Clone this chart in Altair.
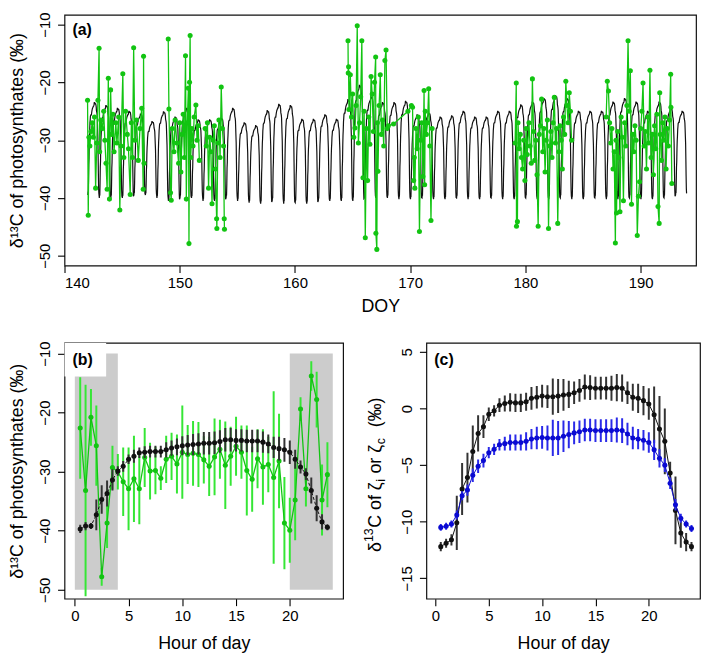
import altair as alt
import pandas as pd

FONT = "Liberation Sans"
BLACK = "#111111"
GREEN_PT = "#12c412"
GREEN_BAR = "#35e635"
BLUE_PT = "#0a0ad2"
BLUE_BAR = "#2a2ae8"
GREY = "#cccccc"

# ---------------- panel (a): DOY time series ----------------
days_a = list(range(142, 194))
day_peak = [-23.5, -24.0, -24.5, -25.0, -25.5, -26.8, -25.1, -26.0, -24.5, -26.5,
            -26.5, -26.2, -24.5, -27.0, -27.5, -24.9, -23.8, -24.0, -26.4, -26.4,
            -25.6, -26.4, -23.0, -20.5, -22.5, -23.5, -23.5, -23.3, -25.6, -25.3,
            -26.0, -25.8, -25.0, -26.0, -26.0, -25.0, -25.0, -23.9, -23.4, -22.8,
            -22.3, -22.8, -25.0, -25.0, -25.0, -23.4, -22.8, -23.4, -25.0, -23.4,
            -24.5, -25.0]
night_min = [-39.5, -40.0, -40.0, -40.0, -39.5, -39.5, -40.0, -40.5, -40.0, -40.0,
             -40.5, -40.5, -40.0, -40.5, -40.8, -41.0, -40.5, -41.0, -40.8, -41.0,
             -40.5, -40.5, -40.5, -40.5, -40.0, -40.0, -40.0, -40.2, -40.2, -40.0,
             -40.2, -40.2, -40.0, -40.2, -40.2, -40.0, -40.2, -40.2, -40.0, -40.2,
             -40.2, -40.0, -40.2, -40.2, -40.0, -40.2, -40.2, -40.0, -40.2, -40.2,
             -40.0, -39.5]

g1_doy = [142.00, 142.06, 142.12, 142.2, 142.3, 142.4, 142.5, 142.6, 142.7, 142.8, 142.9,
          143.0, 143.05, 143.15, 143.3, 143.4, 143.5, 143.6, 143.7, 143.8, 143.9, 144.0,
          144.1, 144.2, 144.3, 144.45, 144.55, 144.7, 144.8, 144.9, 145.06, 145.15, 145.3,
          145.45, 145.55, 145.7, 145.8, 145.9, 146.0, 146.1, 146.25, 146.4, 146.55, 146.7,
          146.83, 146.86, 146.9]
g1_val = [-23.1, -43.0, -29.5, -31.0, -28.5, -27.0, -29.5, -26.0, -38.3, -30.5, -23.1,
          -14.1, -32.0, -26.5, -28.0, -25.0, -30.0, -34.0, -38.5, -19.3, -40.2, -21.3,
          -29.0, -25.5, -32.0, -27.0, -30.5, -26.0, -42.1, -31.0, -18.5, -33.0, -25.0,
          -29.0, -31.5, -39.4, -27.0, -33.0, -14.0, -30.0, -26.5, -33.5, -28.0, -24.5,
          -38.5, -15.5, -34.0]
g2_doy = [149.0, 149.06, 149.2, 149.26, 149.35, 149.5, 149.6, 149.75, 149.9, 150.0,
          150.1, 150.2, 150.3, 150.4, 150.5, 150.57, 150.65, 150.75, 150.8, 150.85,
          150.9, 150.95, 151.05, 151.15, 151.25, 151.4, 151.5, 151.6, 151.7]
g2_val = [-12.5, -24.6, -39.1, -40.4, -28.0, -32.0, -26.5, -30.5, -34.0, -27.0,
          -35.5, -29.0, -25.5, -33.0, -15.4, -40.2, -27.0, -21.0, -47.9, -20.0,
          -11.9, -33.0, -28.0, -31.0, -26.0, -23.9, -30.0, -27.5, -33.5]
g3_doy = [152.2, 152.3, 152.4, 152.5, 152.6, 152.7, 152.8, 152.9, 153.0, 153.1,
          153.2, 153.22, 153.3, 153.4, 153.5, 153.6, 153.7, 153.8, 153.86, 153.88]
g3_val = [-28.0, -31.0, -27.0, -38.3, -29.5, -32.0, -41.0, -30.0, -27.5, -35.0,
          -43.6, -45.3, -30.5, -26.5, -33.0, -20.8, -28.0, -31.0, -43.6, -45.4]
g4_doy = [164.6, 164.62, 164.65, 164.68, 164.8, 164.9, 165.0, 165.1, 165.2, 165.3,
          165.4, 165.5, 165.6, 165.7, 165.8, 165.9, 166.0, 166.1, 166.2, 166.3,
          166.4, 166.5, 166.6, 166.7, 166.8, 166.9, 167.0, 167.02, 167.1, 167.15,
          167.2, 167.3, 167.4, 167.5, 167.6, 167.7, 167.8, 167.9, 168.0, 168.1,
          168.55, 169.8, 170.1, 170.2, 170.3, 170.35, 170.4, 170.5, 170.6, 170.7,
          170.8, 170.9, 171.0, 171.1, 171.2, 171.25, 171.3, 171.4, 171.5, 171.6,
          171.7, 171.8, 171.9]
g4_val = [-12.8, -18.4, -17.3, -24.7, -18.7, -26.0, -22.0, -29.5, -27.9, -24.0,
          -10.2, -30.5, -27.0, -22.5, -12.8, -36.5, -25.0, -46.9, -28.0, -37.0,
          -26.0, -30.7, -19.0, -22.0, -28.5, -20.0, -15.6, -46.1, -48.9, -27.0,
          -35.4, -24.0, -18.7, -29.0, -26.5, -31.0, -16.2, -14.4, -28.0, -27.5,
          -27.2, -25.0, -24.0, -24.3, -37.0, -33.0, -38.3, -28.0, -31.5, -26.0,
          -45.8, -30.0, -27.0, -36.3, -21.4, -37.7, -25.0, -29.0, -27.0, -21.1,
          -31.0, -43.9, -28.0]
g6_doy = [179.1, 179.2, 179.22, 179.3, 179.35, 179.45, 179.55, 179.65, 179.75, 179.85,
          179.95, 180.05, 180.15, 180.3, 180.4, 180.5, 180.6, 180.7, 180.8, 180.9,
          181.0, 181.1, 181.2, 181.3, 181.4, 181.5, 181.6, 181.7, 181.8, 181.9,
          182.0, 182.1, 182.2, 182.3, 182.4, 182.5, 182.6, 182.7, 182.8, 182.9,
          183.0, 183.1, 183.2, 183.3, 183.4, 183.5, 183.6, 183.7, 183.8, 183.9, 184.0]
g6_val = [-30.5, -20.1, -44.9, -44.1, -27.0, -31.5, -29.0, -33.0, -35.0, -30.0,
          -37.0, -28.0, -32.5, -27.0, -31.0, -34.0, -19.4, -28.5, -33.5, -30.0,
          -36.0, -44.9, -29.0, -27.5, -22.9, -32.0, -28.0, -35.5, -30.0, -26.5,
          -45.3, -31.0, -28.5, -33.0, -27.0, -22.6, -30.5, -28.0, -44.4, -32.0,
          -27.5, -30.0, -35.0, -26.0, -29.0, -19.8, -24.0, -27.0, -21.8, -25.0, -30.0]
g7_doy = [187.0, 187.1, 187.2, 187.3, 187.4, 187.5, 187.6, 187.7, 187.8, 187.85,
          187.9, 188.0, 188.1, 188.2, 188.3, 188.4, 188.5, 188.6, 188.7, 188.8,
          188.9, 189.0, 189.1, 189.2, 189.3, 189.4, 189.5, 189.6, 189.7, 189.8,
          189.9, 190.0, 190.1, 190.2, 190.3, 190.4, 190.5, 190.6, 190.7, 190.8,
          190.9, 191.0, 191.1, 191.2, 191.3, 191.4, 191.5, 191.6, 191.65, 191.7,
          191.8, 191.9, 192.0, 192.1, 192.2, 192.3, 192.4, 192.5, 192.6, 192.62, 192.7]
g7_val = [-26.0, -19.8, -21.5, -27.0, -30.5, -28.0, -35.0, -32.0, -47.8, -30.0,
          -42.6, -28.5, -33.0, -42.4, -26.0, -29.5, -40.5, -27.0, -31.0, -24.0,
          -12.8, -25.0, -18.0, -41.1, -29.0, -32.0, -27.5, -30.0, -46.5, -39.7,
          -37.2, -28.0, -25.0, -20.1, -31.0, -28.5, -35.0, -26.0, -30.5, -17.9,
          -33.0, -29.0, -36.0, -27.5, -31.5, -25.5, -41.5, -44.4, -21.8, -29.0,
          -33.5, -27.0, -30.0, -26.0, -35.0, -28.0, -31.0, -26.5, -18.6, -24.3, -37.5]

# ---------------- panel (b): mean diurnal course ----------------
hours_b = [h / 2 for h in range(1, 48)]
black_b = [-39.7, -39.2, -39.2, -37.3, -34.7, -33.7, -31.4, -29.9, -29.1, -27.9,
           -27.4, -26.8, -26.7, -26.6, -26.6, -26.6, -26.3, -26.0, -25.8, -25.6,
           -25.5, -25.4, -25.3, -25.2, -25.2, -25.1, -24.9, -24.6, -24.6, -24.7,
           -24.7, -24.8, -24.8, -24.8, -25.0, -25.3, -25.9, -26.1, -26.3, -26.7,
           -27.9, -29.2, -30.4, -33.2, -36.2, -38.5, -39.4]
black_b_err = [0.7, 0.7, 0.5, 2.6, 2.4, 2.2, 1.8, 0.8, 0.9, 0.8,
               1.1, 0.9, 1.0, 1.0, 1.0, 1.0, 1.3, 1.3, 1.4, 1.6,
               1.7, 1.8, 1.8, 1.9, 1.9, 1.9, 1.9, 2.0, 2.0, 1.9,
               1.9, 1.9, 1.9, 1.9, 1.8, 1.6, 1.8, 2.0, 2.0, 2.0,
               1.6, 1.1, 1.0, 2.2, 2.2, 1.3, 0.5]
green_b = [-22.6, -33.2, -20.8, -25.6, -47.8, -38.7, -29.3, -30.0, -31.7, -32.9,
           -31.2, -32.9, -27.6, -29.9, -29.8, -31.1, -27.9, -27.4, -28.7, -26.7,
           -27.1, -26.9, -27.1, -28.0, -29.1, -27.5, -26.2, -28.9, -27.4, -25.7,
           -26.7, -29.8, -31.3, -27.8, -29.2, -28.8, -31.0, -28.2, -38.7, -39.9,
           -34.8, -19.4, -32.9, -13.8, -17.8, -34.8, -30.5]
green_b_err = [8.6, 17.9, 4.8, 6.8, 1.5, 4.2, 3.7, 3.0, 5.8, 7.0,
               7.3, 6.0, 5.0, 4.8, 4.0, 2.0, 4.0, 4.0, 5.0, 7.9,
               5.0, 5.5, 5.5, 4.0, 5.0, 6.5, 5.0, 7.4, 5.0, 5.0,
               4.5, 7.6, 5.5, 5.0, 6.4, 4.7, 14.6, 8.0, 7.8, 5.5,
               6.8, 2.0, 3.0, 2.5, 4.7, 6.0, 5.5]
night_start = [0, 20]
night_end = [4, 24]
night_low = [-50, -50]
night_high = [-10, -10]

# ---------------- panel (c): zeta_c (black) and zeta_i (blue) ----------------
hours_c = [h / 2 for h in range(1, 49)]
zc = [-12.2, -11.9, -11.6, -10.1, -7.1, -6.1, -3.8, -2.2, -1.6, -0.5,
      -0.2, 0.3, 0.45, 0.55, 0.5, 0.5, 0.6, 0.9, 1.0, 1.1,
      1.05, 1.05, 1.1, 1.2, 1.25, 1.4, 1.6, 1.9, 1.85, 1.8,
      1.8, 1.8, 1.8, 1.85, 1.8, 1.4, 1.0, 0.9, 0.7, 0.4,
      -0.55, -1.8, -2.9, -5.7, -9.0, -11.0, -11.8, -12.2]
zc_err = [0.4, 0.4, 0.5, 2.4, 2.3, 2.2, 2.3, 1.6, 1.0, 0.6,
          0.5, 0.6, 0.7, 0.8, 0.8, 0.8, 0.8, 1.0, 1.0, 1.0,
          1.0, 1.6, 1.5, 1.4, 1.2, 1.0, 1.0, 1.1, 1.1, 1.0,
          1.0, 1.0, 1.1, 1.2, 1.2, 1.0, 1.2, 1.3, 1.3, 1.4,
          2.5, 2.9, 2.9, 1.0, 3.0, 1.3, 0.8, 0.4]
zi = [-10.5, -10.4, -10.2, -9.4, -7.7, -7.2, -5.9, -5.1, -4.6, -3.9,
      -3.6, -3.2, -3.1, -3.0, -3.0, -3.0, -2.9, -2.7, -2.6, -2.55,
      -2.6, -2.6, -2.6, -2.45, -2.3, -2.15, -2.05, -1.9, -1.9, -1.95,
      -1.95, -1.95, -1.95, -1.9, -1.95, -2.25, -2.6, -2.7, -2.8, -3.0,
      -3.65, -4.4, -5.0, -6.6, -8.5, -9.7, -10.2, -10.6]
zi_err = [0.3, 0.3, 0.3, 0.4, 0.4, 0.5, 0.6, 0.6, 0.6, 0.5,
          0.5, 0.5, 0.6, 0.7, 0.7, 0.7, 0.8, 0.9, 1.0, 1.0,
          1.1, 1.6, 1.5, 1.4, 1.2, 1.0, 1.0, 1.0, 1.0, 1.0,
          1.0, 1.0, 1.0, 1.1, 1.1, 1.0, 1.0, 0.9, 0.9, 0.9,
          0.9, 0.8, 0.6, 0.5, 0.5, 0.4, 0.3, 0.3]

# y title of panel (c), split for super/subscripts
c_title_parts = ["δ", "13", "C of ζ", "i", "or ζ", "c", "(‰)"]
c_title_kinds = ["base", "sup", "base", "sub", "base", "sub", "base"]

# ================= build tables =================
pmin, pmax = min(black_b), max(black_b)
rows = []
for k, d in enumerate(days_a):
    for h, p in zip(hours_b, black_b):
        frac = (p - pmin) / (pmax - pmin)
        rows.append({"doy": d + h / 24.0, "v": night_min[k] + frac * (day_peak[k] - night_min[k])})
df_black_a = pd.DataFrame(rows)

g_rows = []
for seg, (ds, vs) in enumerate([(g1_doy, g1_val), (g2_doy, g2_val), (g3_doy, g3_val),
                                 (g4_doy, g4_val), (g6_doy, g6_val), (g7_doy, g7_val)]):
    for d, v in zip(ds, vs):
        g_rows.append({"doy": d, "v": v, "seg": seg})
df_green_a = pd.DataFrame(g_rows)


def series(hours, vals, errs):
    return pd.DataFrame({"h": hours, "v": vals,
                         "lo": [v - e for v, e in zip(vals, errs)],
                         "hi": [v + e for v, e in zip(vals, errs)]})


df_bk = series(hours_b, black_b, black_b_err)
df_bg = series(hours_b, green_b, green_b_err)
df_ck = series(hours_c, zc, zc_err)
df_cb = series(hours_c, zi, zi_err)
df_night = pd.DataFrame({"h": night_start, "h2": night_end, "v": night_low, "v2": night_high})

# ================= axes =================
XAX_A = dict(tickSize=7, labelPadding=3, titlePadding=7)
XAX = dict(tickSize=7, labelPadding=3, titlePadding=11)
YAX = dict(tickSize=7, labelPadding=5, labelAngle=270, labelAlign="center",
           labelBaseline="bottom", minExtent=26, maxExtent=26, titlePadding=12)
PT = 26


def label(txt, y):
    return alt.Chart(pd.DataFrame({"t": [txt]})).mark_text(
        font=FONT, fontSize=16, fontWeight="bold", align="left", baseline="middle", color="black"
    ).encode(x=alt.value(8), y=alt.value(y), text="t:N")


# ---------- (a) ----------
WA, HA = 637, 253
sxa = alt.Scale(domain=[140, 194.8], nice=False, zero=False)
sya = alt.Scale(domain=[-51.7, -8.3], nice=False, zero=False)
xa = alt.X("doy:Q", scale=sxa, axis=alt.Axis(values=[140, 150, 160, 170, 180, 190], title="DOY", **XAX_A))
ya = alt.Y("v:Q", scale=sya, axis=alt.Axis(values=[-50, -40, -30, -20, -10],
                                           title="δ¹³C of photosynthates (‰)", **YAX))
pa = alt.layer(
    alt.Chart(df_black_a).mark_line(color=BLACK, strokeWidth=1.2, clip=True).encode(x=xa, y=ya),
    alt.Chart(df_green_a).mark_line(color=GREEN_PT, strokeWidth=1.3, clip=True).encode(x=xa, y=ya, detail="seg:N"),
    alt.Chart(df_green_a).mark_circle(color=GREEN_PT, size=PT, opacity=1, clip=True).encode(x=xa, y=ya),
    label("(a)", 15),
).properties(width=WA, height=HA)

# ---------- (b) ----------
WB, HB = 281, 258
sxb = alt.Scale(domain=[-0.96, 24.96], nice=False, zero=False)
syb = alt.Scale(domain=[-51.5, -8.2], nice=False, zero=False)
xb = alt.X("h:Q", scale=sxb, axis=alt.Axis(values=[0, 5, 10, 15, 20], title="Hour of day", **XAX))
yb = alt.Y("v:Q", scale=syb, axis=alt.Axis(values=[-50, -40, -30, -20, -10],
                                           title="δ¹³C of photosynthates (‰)", **YAX))
pb = alt.layer(
    alt.Chart(df_night).mark_rect(color=GREY, clip=True).encode(x=xb, x2="h2:Q", y=yb, y2="v2:Q"),
    alt.Chart(df_bg).mark_rule(color=GREEN_BAR, strokeWidth=2, clip=True).encode(x=xb, y=alt.Y("lo:Q", scale=syb), y2="hi:Q"),
    alt.Chart(df_bg).mark_line(color=GREEN_PT, strokeWidth=1.3, clip=True).encode(x=xb, y=yb),
    alt.Chart(df_bg).mark_circle(color=GREEN_PT, size=PT, opacity=1, clip=True).encode(x=xb, y=yb),
    alt.Chart(df_bk).mark_rule(color="#333333", strokeWidth=2, clip=True).encode(x=xb, y=alt.Y("lo:Q", scale=syb), y2="hi:Q"),
    alt.Chart(df_bk).mark_line(color=BLACK, strokeWidth=1, strokeDash=[3, 2], clip=True).encode(x=xb, y=yb),
    alt.Chart(df_bk).mark_circle(color=BLACK, size=PT, opacity=1, clip=True).encode(x=xb, y=yb),
    alt.Chart(pd.DataFrame({"k": [0]})).mark_rect(color="white").encode(
        x=alt.value(0), x2=alt.value(42), y=alt.value(0), y2=alt.value(34)),
    label("(b)", 17),
).properties(width=WB, height=HB)

# ---------- (c) ----------
WC, HC = 276, 258
sxc = alt.Scale(domain=[-0.85, 24.8], nice=False, zero=False)
syc = alt.Scale(domain=[-16.8, 5.8], nice=False, zero=False)
xc = alt.X("h:Q", scale=sxc, axis=alt.Axis(values=[0, 5, 10, 15, 20], title="Hour of day", **XAX))
yc = alt.Y("v:Q", scale=syc, axis=alt.Axis(values=[-15, -10, -5, 0, 5], title=None, **YAX))

# manual y title with sub/superscripts (explicit gaps instead of spaces)
CW = {"δ": 0.556, "1": 0.556, "3": 0.556, "C": 0.722, " ": 0.278, "o": 0.556,
      "f": 0.278, "ζ": 0.44, "i": 0.222, "r": 0.333, "c": 0.5, "(": 0.333, "‰": 1.0, ")": 0.333}
FS_BIG, FS_SMALL = 18, 12.5
gap_before = [0, 0, 0, 0.5, 5.5, 0.5, 11]
gap_after = [0, 0.5, 0, 0, 0, 0, 0]
widths = []
for t, k in zip(c_title_parts, c_title_kinds):
    fs = FS_BIG if k == "base" else FS_SMALL
    widths.append(sum(CW.get(ch, 0.55) for ch in t) * fs)
total = sum(widths) + sum(gap_before) + sum(gap_after)
ystart = HC / 2 + 4 + total / 2
title_layers = []
acc = 0.0
for t, k, w, gb, ga in zip(c_title_parts, c_title_kinds, widths, gap_before, gap_after):
    fs = FS_BIG if k == "base" else FS_SMALL
    xpos = -46 if k == "base" else (-53.5 if k == "sup" else -41.5)
    acc += gb
    title_layers.append(
        alt.Chart(pd.DataFrame({"t": [t]})).mark_text(
            font=FONT, fontSize=fs, angle=270, align="left", baseline="alphabetic", color="black"
        ).encode(x=alt.value(xpos), y=alt.value(ystart - acc), text="t:N")
    )
    acc += w + ga

pc = alt.layer(
    alt.Chart(df_ck).mark_rule(color="#333333", strokeWidth=2, clip=True).encode(x=xc, y=alt.Y("lo:Q", scale=syc), y2="hi:Q"),
    alt.Chart(df_ck).mark_line(color=BLACK, strokeWidth=1, clip=True).encode(x=xc, y=yc),
    alt.Chart(df_ck).mark_circle(color=BLACK, size=PT, opacity=1, clip=True).encode(x=xc, y=yc),
    alt.Chart(df_cb).mark_rule(color=BLUE_BAR, strokeWidth=2, clip=True).encode(x=xc, y=alt.Y("lo:Q", scale=syc), y2="hi:Q"),
    alt.Chart(df_cb).mark_line(color=BLUE_PT, strokeWidth=1, clip=True).encode(x=xc, y=yc),
    alt.Chart(df_cb).mark_circle(color=BLUE_PT, size=PT, opacity=1, clip=True).encode(x=xc, y=yc),
    label("(c)", 17),
    *title_layers,
).properties(width=WC, height=HC)

chart = alt.vconcat(
    pa,
    alt.hconcat(pb, pc, spacing=18),
    spacing=24,
).properties(
    padding={"left": 0, "top": 0, "right": 0, "bottom": 0}, background="white"
).configure_view(
    stroke=BLACK, strokeWidth=1.2
).configure_axis(
    labelFont=FONT, titleFont=FONT, labelFontSize=15, titleFontSize=18,
    titleFontWeight="normal", labelColor="black", titleColor="black",
    tickColor="black", tickWidth=1.1, domain=False, grid=False
)

chart.save("out.html", embed_options={"renderer": "svg", "actions": False})
